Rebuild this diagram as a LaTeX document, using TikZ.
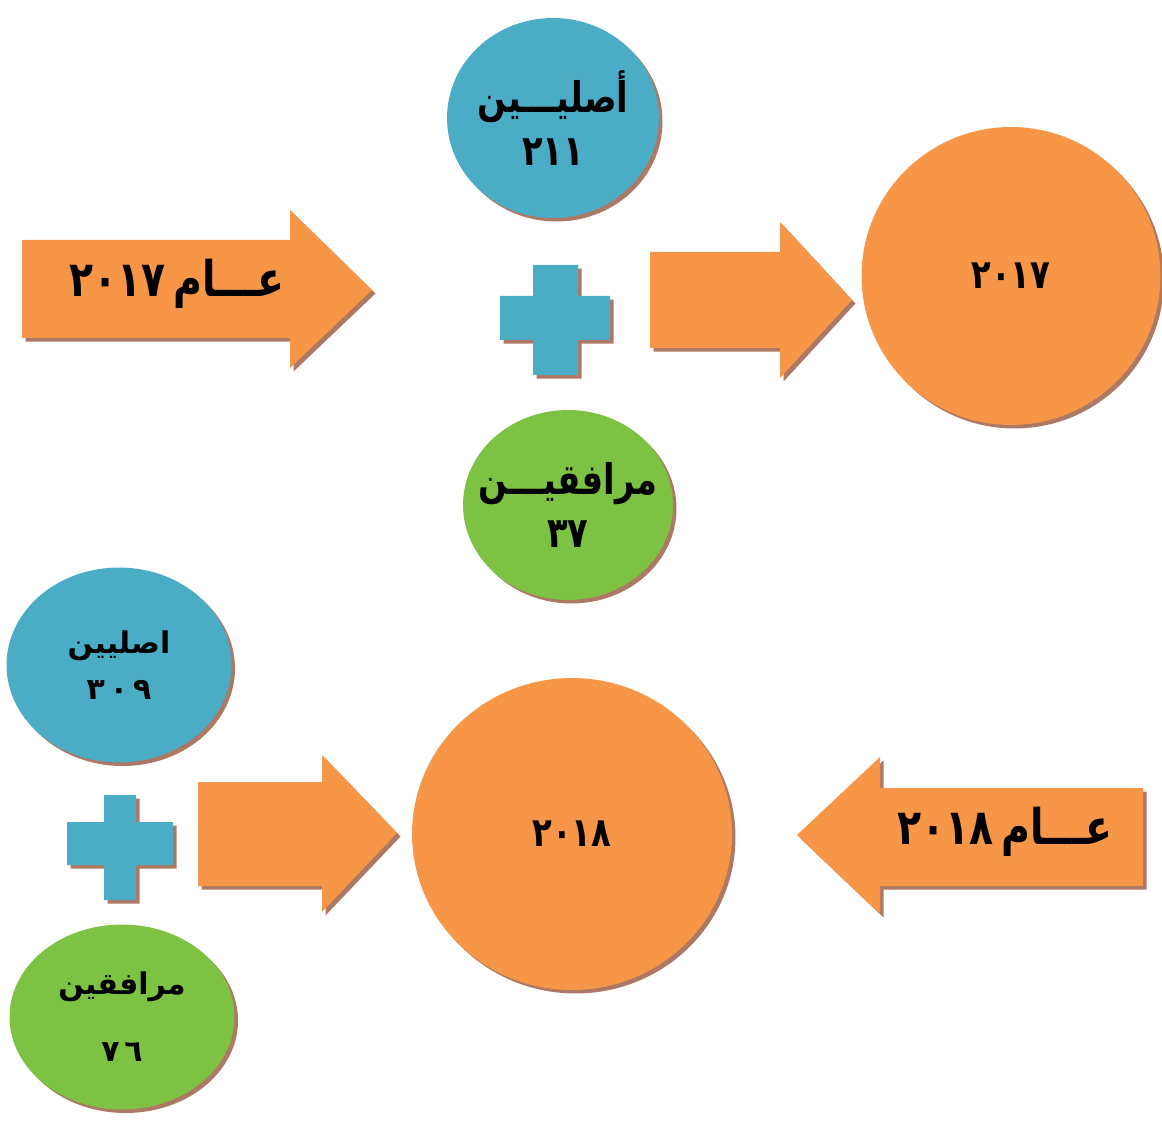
\documentclass[tikz,border=0pt]{standalone}
\usepackage{fontspec}
\usetikzlibrary{shadows,shapes.geometric}
\TeXXeTstate=1
\newfontfamily\arabicfont[Script=Arabic]{DejaVu Sans}
\newfontfamily\arabiccond[Script=Arabic,FakeStretch=0.8]{DejaVu Sans}
\definecolor{cblue}{HTML}{4BACC6}
\definecolor{cgreen}{HTML}{7DC243}
\definecolor{corange}{HTML}{F79646}
\definecolor{cshadow}{HTML}{8A3F22}
\begin{document}
\begin{tikzpicture}[x=0.02cm,y=-0.02cm,
  shad/.style={drop shadow={shadow xshift=2pt,shadow yshift=-2pt,opacity=0.7,fill=cshadow}},
  blob/.style={ellipse,shad,inner sep=0pt},
  toptxt/.style={align=center,inner sep=0pt,font=\arabiccond\bfseries\fontsize{24}{30}\selectfont},
  bigtxt/.style={font=\arabiccond\bfseries\fontsize{23}{26}\selectfont},
  arrtxt/.style={font=\arabiccond\bfseries\fontsize{28}{30}\selectfont},
  smalltxt/.style={align=center,inner sep=0pt,font=\arabicfont\bfseries\fontsize{17}{26}\selectfont}]
\useasboundingbox (0,0) rectangle (1162,1124);
% ---------- top group ----------
\node[blob,fill=cblue,minimum width=4.24cm,minimum height=4.0cm] (b1) at (553,118) {};
\node[toptxt] (b1t) at (b1) {\beginR أصليـــين\endR\\ ٢١١};
\node[blob,fill=cgreen,minimum width=4.2cm,minimum height=3.8cm] (g1) at (568,505) {};
\node[toptxt] (g1t) at (g1) {\beginR مرافقيـــن\endR\\ ٣٧};
% plus top
\fill[cblue,shad] (533,265) -- (578,265) -- (578,296) -- (610,296) -- (610,340) -- (578,340)
  -- (578,375) -- (533,375) -- (533,340) -- (500,340) -- (500,296) -- (533,296) -- cycle;
\coordinate (p1) at (555,320);
% left arrow 2017
\fill[corange,shad] (22,240) -- (290,240) -- (290,210) -- (372,290) -- (290,368) -- (290,338) -- (22,338) -- cycle;
\node[arrtxt] (a1) at (177,284) {\beginR عـــام\,\beginL٢٠١٧\endL\endR};
% middle arrow top
\fill[corange,shad] (650,252) -- (780,252) -- (780,222) -- (852,300) -- (780,378) -- (780,348) -- (650,348) -- cycle;
% big circle 2017
\node[blob,fill=corange,minimum width=5.98cm,minimum height=5.96cm] (c1) at (1011,276) {};
\node[bigtxt] (c1t) at (c1) {٢٠١٧};
% ---------- bottom group ----------
\node[blob,fill=cblue,minimum width=4.5cm,minimum height=3.9cm] (b2) at (119,665) {};
\node[smalltxt] (b2t) at (b2) {\beginR اصليين\endR\\ ٣\,٠\,٩};
\node[blob,fill=cgreen,minimum width=4.5cm,minimum height=3.7cm] (g2) at (122,1017) {};
\node[smalltxt,font=\arabicfont\bfseries\fontsize{17}{38}\selectfont] (g2t) at (g2) {\beginR مرافقين\endR\\ ٧\,٦};
% plus bottom
\fill[cblue,shad] (104,795) -- (136,795) -- (136,822) -- (173,822) -- (173,865) -- (136,865)
  -- (136,900) -- (104,900) -- (104,865) -- (67,865) -- (67,822) -- (104,822) -- cycle;
\coordinate (p2) at (120,845);
% middle arrow bottom
\fill[corange,shad] (198,782) -- (322,782) -- (322,755) -- (397,833) -- (322,912) -- (322,886) -- (198,886) -- cycle;
% big circle 2018
\node[blob,fill=corange,minimum width=6.4cm,minimum height=6.24cm] (c2) at (572,834) {};
\node[bigtxt] (c2t) at (c2) {٢٠١٨};
% right arrow 2018 (pointing left)
\fill[corange,shad] (1143,788) -- (880,788) -- (880,757) -- (797,835) -- (880,914) -- (880,886) -- (1143,886) -- cycle;
\node[arrtxt] (a2) at (1005,832) {\beginR عـــام\,\beginL٢٠١٨\endL\endR};
\end{tikzpicture}
\end{document}
